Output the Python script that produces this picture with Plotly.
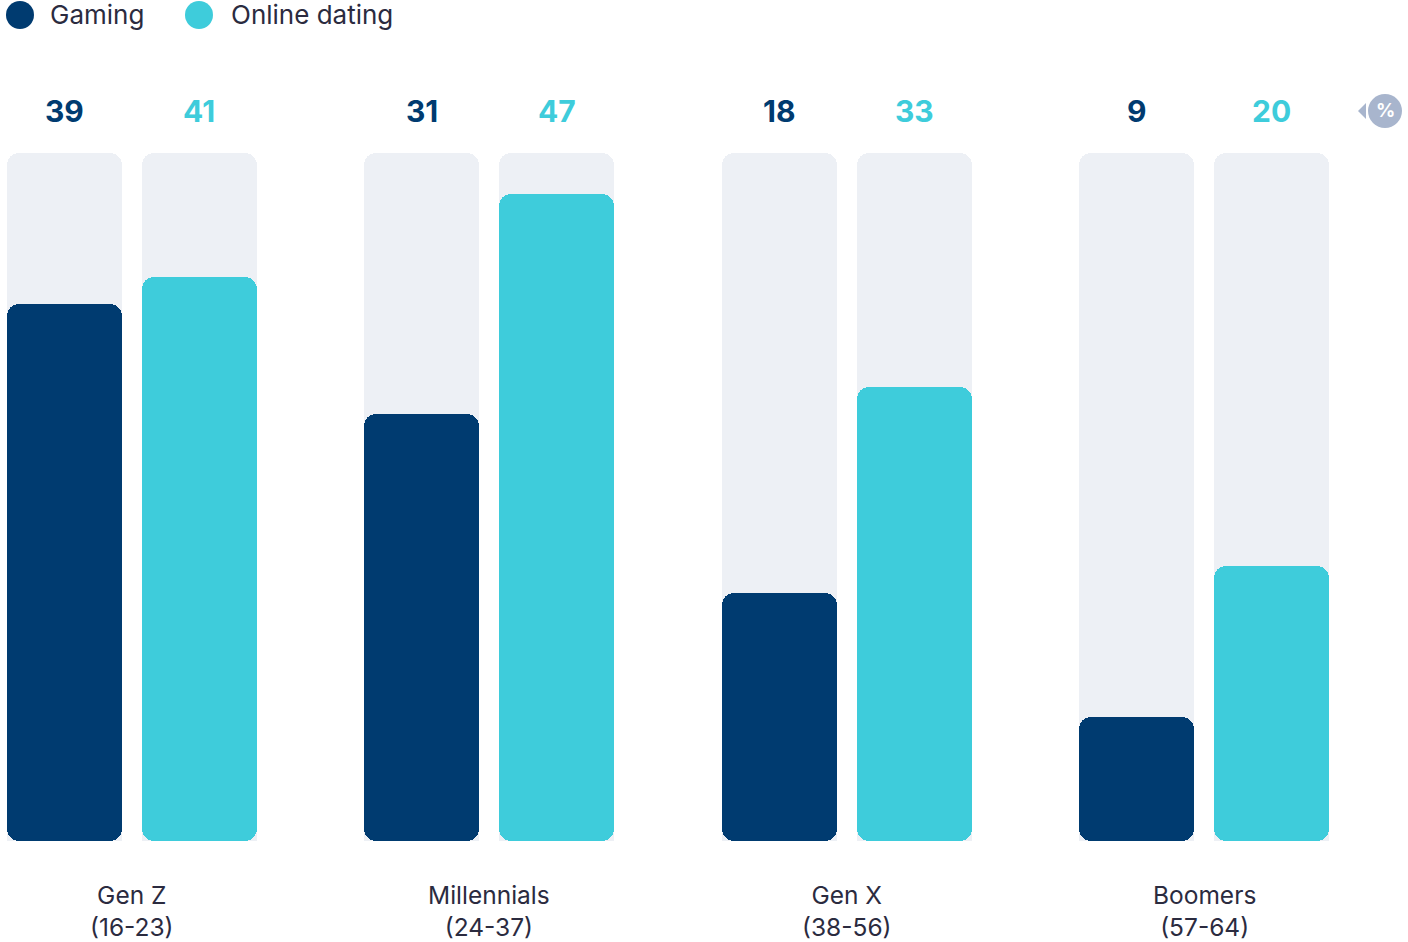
import plotly.graph_objects as go

categories = ["Gen Z<br>(16-23)", "Millennials<br>(24-37)", "Gen X<br>(38-56)", "Boomers<br>(57-64)"]
gaming = [39, 31, 18, 9]
dating = [41, 47, 33, 20]
series_names = ["Gaming", "Online dating"]
max_val = 50

NAVY = "#003B70"
CYAN = "#3ECCDB"
BG = "#EDF0F5"
TEXT = "#2B2B3F"

W, H = 1408, 942
px_per_cat = 357.5
bar_w = 115 / px_per_cat
gap = 20 / px_per_cat
off = bar_w / 2 + gap / 2
x0 = -131.5 / px_per_cat
x1 = x0 + W / px_per_cat
scale = 688 / max_val
y_lo = -(H - 841) / scale
y_hi = 841 / scale
R = 12

idx = list(range(len(categories)))
xg = [i - off for i in idx]
xd = [i + off for i in idx]

fig = go.Figure()
for xs in (xg, xd):
    fig.add_trace(go.Bar(x=xs, y=[max_val] * len(xs), width=bar_w, marker_color=BG,
                         marker_line_width=0, marker_cornerradius=R, showlegend=False, hoverinfo="skip"))
for xs, vals, col, name in ((xg, gaming, NAVY, series_names[0]), (xd, dating, CYAN, series_names[1])):
    # upper piece (rounded top) and lower piece drawn downward (rounded bottom), overlapping in the middle
    up_base = [v * 0.25 for v in vals]
    up_len = [v * 0.75 for v in vals]
    lo_base = [v * 0.75 for v in vals]
    lo_len = [-v * 0.75 for v in vals]
    fig.add_trace(go.Bar(x=xs, y=up_len, base=up_base, width=bar_w, marker_color=col, marker_line_width=0,
                         marker_cornerradius=R, name=name, showlegend=False,
                         customdata=vals, hovertemplate="%{customdata}<extra>" + name + "</extra>"))
    fig.add_trace(go.Bar(x=xs, y=lo_len, base=lo_base, width=bar_w, marker_color=col,
                         marker_line_width=0, marker_cornerradius=R, name=name, showlegend=False,
                         customdata=vals, hovertemplate="%{customdata}<extra>" + name + "</extra>"))

ann = []
label_y = (841 - 111) / scale
for i in idx:
    ann.append(dict(x=xg[i], y=label_y, text=f"<b>{gaming[i]}</b>", showarrow=False,
                    font=dict(size=30, color=NAVY, family="Inter"), xanchor="center", yanchor="middle"))
    ann.append(dict(x=xd[i], y=label_y, text=f"<b>{dating[i]}</b>", showarrow=False,
                    font=dict(size=30, color=CYAN, family="Inter"), xanchor="center", yanchor="middle"))
    ann.append(dict(x=i, y=-(911 - 841) / scale, text=categories[i], showarrow=False,
                    font=dict(size=24.5, color=TEXT, family="Inter"), xanchor="center", yanchor="middle"))

shapes = []
# legend
for cx, tx, col, name in ((20, 48, NAVY, series_names[0]), (199, 229, CYAN, series_names[1])):
    shapes.append(dict(type="circle", xref="paper", yref="paper",
                       x0=(cx - 14) / W, x1=(cx + 14) / W, y0=1 - 29 / H, y1=1 - 1 / H,
                       fillcolor=col, line_width=0))
    ann.append(dict(xref="paper", yref="paper", x=tx / W, y=1 - 15 / H, text=name, showarrow=False,
                    font=dict(size=26, color=TEXT, family="Inter"), xanchor="left", yanchor="middle"))

# percent icon
ICON = "#A8B5CD"
shapes.append(dict(type="circle", xref="paper", yref="paper",
                   x0=1368 / W, x1=1402 / W, y0=1 - 128 / H, y1=1 - 94 / H, fillcolor=ICON, line_width=0))
shapes.append(dict(type="path", xref="paper", yref="paper",
                   path=f"M {1366/W} {1-103/H} L {1358/W} {1-111/H} L {1366/W} {1-119/H} Z",
                   fillcolor=ICON, line_width=0))
ann.append(dict(xref="paper", yref="paper", x=1385 / W, y=1 - 111 / H, text="<b>%</b>", showarrow=False,
                font=dict(size=19, color="white", family="Inter"), xanchor="center", yanchor="middle"))

fig.update_layout(
    width=W, height=H, margin=dict(l=0, r=0, t=0, b=0),
    paper_bgcolor="white", plot_bgcolor="white",
    barmode="overlay", bargap=0,
    xaxis=dict(range=[x0, x1], visible=False, fixedrange=True),
    yaxis=dict(range=[y_lo, y_hi], visible=False, fixedrange=True),
    annotations=ann, shapes=shapes, showlegend=False,
)
fig.write_html("out.html")
